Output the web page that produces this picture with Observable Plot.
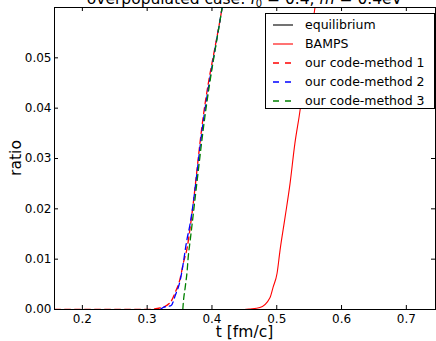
<!DOCTYPE html>
<html><head><meta charset="utf-8">
<script src="https://cdn.jsdelivr.net/npm/d3@7"></script>
<script src="https://cdn.jsdelivr.net/npm/@observablehq/plot@0.6"></script>
<style>body{margin:0;background:#fff}#c{width:436px;height:341px}</style>
</head><body><div id="c"></div>
<script>
// ---- data ----
const xTicks = [0.2, 0.3, 0.4, 0.5, 0.6, 0.7];
const yTicks = [0, 0.01, 0.02, 0.03, 0.04, 0.05];
const seriesNames = ["equilibrium", "BAMPS", "our code-method 1", "our code-method 2", "our code-method 3"];
const seriesColors = ["#000000", "#ff0000", "#ff0000", "#0000ff", "#008000"];
const seriesDashed = [false, false, true, true, true];

const bampsT = [0.157, 0.30, 0.40, 0.45, 0.459, 0.474, 0.4897, 0.4943, 0.5005, 0.505, 0.5128, 0.5205, 0.528, 0.5344, 0.559, 0.57];
const bampsR = [0, 0, 0, 0, 0.0001, 0.0004, 0.0024, 0.0044, 0.0072, 0.0117, 0.0183, 0.025, 0.033, 0.0382, 0.06, 0.069];

const m1T = [0.157, 0.30, 0.32, 0.3356, 0.3433, 0.351, 0.3556, 0.3618, 0.3664, 0.3864, 0.4157, 0.42];
const m1R = [0, 0, 0.0003, 0.0014, 0.0034, 0.0062, 0.0091, 0.0123, 0.0163, 0.0382, 0.06, 0.0635];

const m2T = [0.32, 0.3247, 0.3371, 0.3433, 0.351, 0.3556, 0.3603, 0.3664, 0.3875, 0.4157, 0.42];
const m2R = [0, 0.0004, 0.0008, 0.0028, 0.0058, 0.0091, 0.0131, 0.0171, 0.0382, 0.06, 0.0635];

const m3T = [0.355, 0.3561, 0.3587, 0.3618, 0.3633, 0.3664, 0.3695, 0.389, 0.4157, 0.42];
const m3R = [0, 0.0018, 0.0044, 0.0078, 0.0103, 0.0137, 0.0171, 0.0382, 0.06, 0.0635];

// ---- build ----
const rows = (T, R) => T.map((t, i) => ({t, r: R[i]}));
const W = 436, H = 341, mL = 54, mR = 1, mT = 7, mB = 32;
const pW = W - mL - mR, pH = H - mT - mB;
const dash = "6,4";

const chart = Plot.plot({
  width: W, height: H,
  marginLeft: mL, marginRight: mR, marginTop: mT, marginBottom: mB,
  style: {fontFamily: "DejaVu Sans", fontSize: "12px", background: "white", color: "black", overflow: "visible"},
  x: {domain: [0.157, 0.745]},
  y: {domain: [0, 0.06]},
  marks: [
    Plot.line(rows(bampsT, bampsR), {x: "t", y: "r", stroke: seriesColors[1], strokeWidth: 1.1, curve: "monotone-x", clip: true}),
    Plot.line(rows(m1T, m1R), {x: "t", y: "r", stroke: seriesColors[2], strokeWidth: 1.3, strokeDasharray: dash, curve: "monotone-x", clip: true}),
    Plot.line(rows(m2T, m2R), {x: "t", y: "r", stroke: seriesColors[3], strokeWidth: 1.3, strokeDasharray: dash, curve: "monotone-x", clip: true}),
    Plot.line(rows(m3T, m3R), {x: "t", y: "r", stroke: seriesColors[4], strokeWidth: 1.3, strokeDasharray: dash, curve: "monotone-x", clip: true}),
    Plot.tickX(xTicks, {x: d => d, insetTop: pH - 4, stroke: "black"}),
    Plot.tickX(xTicks, {x: d => d, insetBottom: pH - 4, stroke: "black"}),
    Plot.tickY(yTicks, {y: d => d, insetRight: pW - 4, stroke: "black"}),
    Plot.tickY(yTicks, {y: d => d, insetLeft: pW - 4, stroke: "black"}),
    Plot.axisX({ticks: xTicks, tickSize: 0, tickPadding: 5, tickFormat: d3.format(".1f"), label: null}),
    Plot.axisY({ticks: yTicks, tickSize: 0, tickPadding: 3, tickFormat: d3.format(".2f"), label: null}),
    Plot.frame({stroke: "black", strokeWidth: 1})
  ]
});
document.getElementById("c").appendChild(chart);

const svg = d3.select(chart);
// title (partly cut at top, as in the reference)
const title = svg.append("text").attr("x", mL + pW / 2).attr("y", 4)
  .attr("text-anchor", "middle").attr("font-family", "DejaVu Sans").attr("font-size", "15.5px").attr("fill", "black");
title.append("tspan").text("overpopulated case: ");
title.append("tspan").attr("font-style", "italic").text("f");
title.append("tspan").attr("font-size", "10px").attr("dy", 3).text("0");
title.append("tspan").attr("dy", -3).text(" = 0.4, ");
title.append("tspan").attr("font-style", "italic").text("m");
title.append("tspan").text(" = 0.4eV");

// axis labels
svg.append("text").attr("x", mL + pW / 2).attr("y", 337).attr("text-anchor", "middle")
  .attr("font-family", "DejaVu Sans").attr("font-size", "15.5px").attr("fill", "black").text("t [fm/c]");
svg.append("text").attr("transform", `translate(21,${mT + pH / 2}) rotate(-90)`).attr("text-anchor", "middle")
  .attr("font-family", "DejaVu Sans").attr("font-size", "15.5px").attr("fill", "black").text("ratio");

// legend
const lg = svg.append("g").attr("text-anchor", "start");
lg.append("rect").attr("x", 265.5).attr("y", 13.5).attr("width", 169).attr("height", 95)
  .attr("fill", "white").attr("stroke", "black").attr("stroke-width", 1);
seriesNames.forEach((name, i) => {
  const y = 25 + i * 19;
  lg.append("line").attr("x1", 273).attr("x2", 293).attr("y1", y).attr("y2", y)
    .attr("stroke", seriesColors[i]).attr("stroke-width", seriesDashed[i] ? 1.3 : 1.1)
    .attr("stroke-dasharray", seriesDashed[i] ? "6,6" : null);
  lg.append("text").attr("x", 305).attr("y", y).attr("dy", "0.35em").attr("text-anchor", "start")
    .attr("font-family", "DejaVu Sans").attr("font-size", "12.5px").attr("fill", "black").text(name);
});
</script>
</body></html>
